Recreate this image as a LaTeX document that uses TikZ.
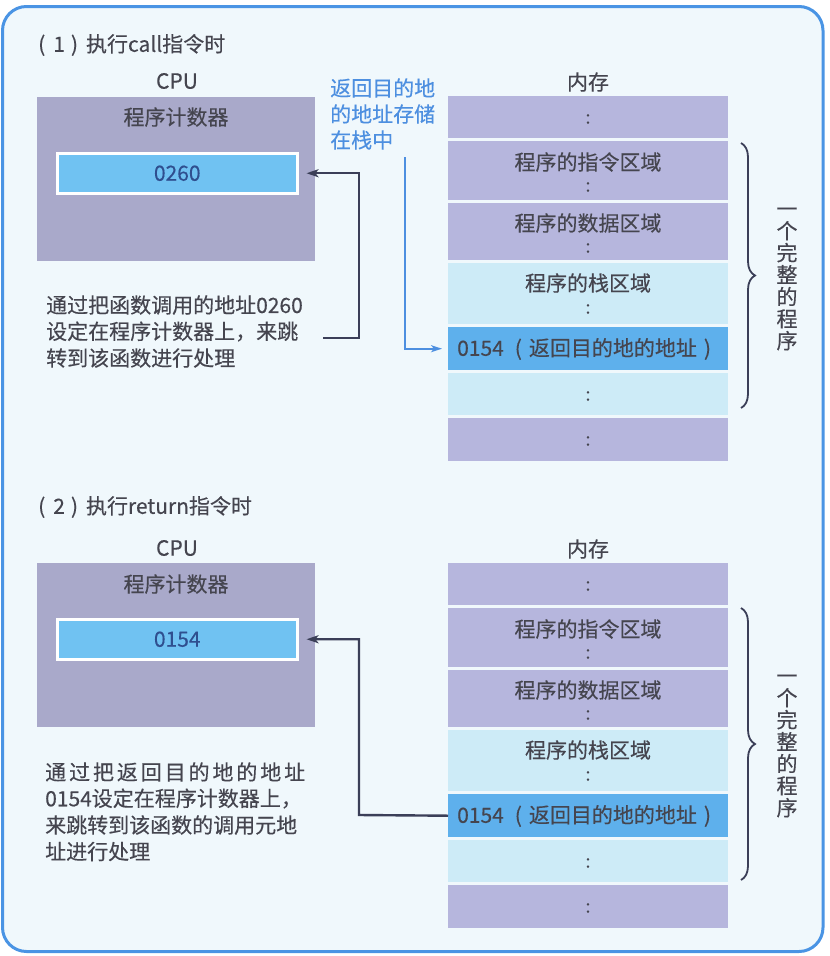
\documentclass[tikz,border=0pt]{standalone}
\usepackage{fontspec}
\setmainfont{Noto Sans CJK SC}[FakeBold=0.3]
\usetikzlibrary{decorations.pathreplacing,arrows.meta,calc}
\definecolor{bgcol}{HTML}{F0F8FC}
\definecolor{framecol}{HTML}{4A94E4}
\definecolor{cpucol}{HTML}{A9A9CA}
\definecolor{lavcol}{HTML}{B6B6DD}
\definecolor{cyancol}{HTML}{CDEBF7}
\definecolor{bluerow}{HTML}{5EB0EC}
\definecolor{pcfill}{HTML}{70C2F2}
\definecolor{textcol}{HTML}{45454F}
\definecolor{pctext}{HTML}{2F4F8F}
\definecolor{annotcol}{HTML}{4D8FE0}
\definecolor{arrowcol}{HTML}{3B3F58}
\newcommand\memcolumn[2]{%
  \node[memrow, fill=lavcol, minimum height=42pt] (#1r1) at (448,{96+#2}) {};
  \node[memrow, fill=lavcol, minimum height=59pt] (#1r2) at (448,{141+#2}) {};
  \node[memrow, fill=lavcol, minimum height=57pt] (#1r3) at (448,{203+#2}) {};
  \node[memrow, fill=cyancol, minimum height=61pt] (#1r4) at (448,{263+#2}) {};
  \node[memrow, fill=bluerow, minimum height=43pt] (#1r5) at (448,{327+#2}) {};
  \node[memrow, fill=cyancol, minimum height=42pt] (#1r6) at (448,{373+#2}) {};
  \node[memrow, fill=lavcol, minimum height=43pt] (#1r7) at (448,{418+#2}) {};
  \node[txt] (#1mem) at (588,{82+#2}) {内存};
  \node[dots] (#1c1) at (588,{119+#2}) {:};
  \node[txt] (#1t2) at (588,{162+#2}) {程序的指令区域};
  \node[dots] (#1c2) at (588,{187+#2}) {:};
  \node[txt] (#1t3) at (588,{223+#2}) {程序的数据区域};
  \node[dots] (#1c3) at (588,{248+#2}) {:};
  \node[txt] (#1t4) at (588,{283+#2}) {程序的栈区域};
  \node[dots] (#1c4) at (588,{309+#2}) {:};
  \node[txt, anchor=west] (#1t5) at (457,{349+#2}) {0154\hspace{11pt}(\hspace{7pt}返回目的地的地址\hspace{7pt})};
  \node[dots] (#1c6) at (588,{396+#2}) {:};
  \node[dots] (#1c7) at (588,{441+#2}) {:};
}
\begin{document}
\begin{tikzpicture}[x=1pt,y=-1pt,
  txt/.style={font=\fontsize{21}{26}\selectfont, text=textcol, inner sep=0pt},
  dots/.style={font=\fontsize{18}{20}\selectfont, text=textcol, inner sep=0pt},
  memrow/.style={anchor=north west, minimum width=280pt, inner sep=0pt, draw=none},
  cpubox/.style={anchor=north west, fill=cpucol, minimum width=278pt, minimum height=164pt, inner sep=0pt},
  pcbox/.style={anchor=north west, fill=pcfill, draw=white, line width=2.5pt, minimum width=240pt, minimum height=40pt, inner sep=0pt, font=\fontsize{21}{26}\selectfont, text=pctext},
  darrow/.style={draw=arrowcol, line width=2.4pt, -{Stealth[length=12pt,width=8pt,inset=3pt]}, shorten >=8pt},
  barrow/.style={draw=annotcol, line width=1.6pt, -{Stealth[length=11pt,width=7pt,inset=3pt]}, shorten >=6pt},
  bracestyle/.style={decorate, decoration={brace, amplitude=14pt}, draw=arrowcol, line width=1.8pt},
  vtext/.style={font=\fontsize{21}{22}\selectfont, text=textcol, inner sep=0pt, align=center}
]
\useasboundingbox (0,0) rectangle (830,956);
\draw[line width=3pt, draw=framecol, fill=bgcol, rounded corners=24pt] (2.5,6.5) rectangle (823,951.5);

% ---------- panel 1 ----------
\node[txt, anchor=west] (title1) at (38,45) {(\hspace{8pt}1\hspace{6pt})\hspace{8pt}执行call指令时};
\node[txt] (cpul1) at (177,81) {CPU};
\node[cpubox] (cpu1) at (37,97) {};
\node[txt] (pcl1) at (176,117) {程序计数器};
\node[pcbox] (pc1) at (56,152) {0260};
\node[txt, anchor=west] (d1a) at (46,305) {通过把函数调用的地址0260};
\node[txt, anchor=west] (d1b) at (46,331.5) {设定在程序计数器上，来跳};
\node[txt, anchor=west] (d1c) at (46,358) {转到该函数进行处理};
\node[txt, text=annotcol, align=left, anchor=west] (note1) at (330,114) {返回目的地\\的地址存储\\在栈中};
\memcolumn{a}{0}
\draw[bracestyle] (741,143) -- (741,408);
\node[vtext] (v1) at (787,279) {一\\个\\完\\整\\的\\程\\序};
\coordinate (a1s) at (323,338);
\draw[darrow] (a1s) -- (359,338) |- (pc1.east);
\coordinate (b1s) at (405,157);
\draw[barrow] (b1s) |- (ar5.west);

% ---------- panel 2 ----------
\node[txt, anchor=west] (title2) at (38,507) {(\hspace{8pt}2\hspace{6pt})\hspace{8pt}执行return指令时};
\node[txt] (cpul2) at (177,548) {CPU};
\node[cpubox] (cpu2) at (37,563) {};
\node[txt] (pcl2) at (176,584) {程序计数器};
\node[pcbox] (pc2) at (56,618) {0154};
\node[txt, anchor=west] (d2a) at (45,772) {\hbox to 260pt{通\hfil 过\hfil 把\hfil 返\hfil 回\hfil 目\hfil 的\hfil 地\hfil 的\hfil 地\hfil 址}};
\node[txt, anchor=west] (d2b) at (45,798.5) {0154设定在程序计数器上，};
\node[txt, anchor=west] (d2c) at (45,825) {来跳转到该函数的调用元地};
\node[txt, anchor=west] (d2d) at (45,851.5) {址进行处理};
\memcolumn{b}{467}
\draw[bracestyle] (741,608) -- (741,880);
\node[vtext] (v2) at (787,746) {一\\个\\完\\整\\的\\程\\序};
\draw[darrow] (br5.west) -- (359,815) |- (pc2.east);
\end{tikzpicture}
\end{document}
